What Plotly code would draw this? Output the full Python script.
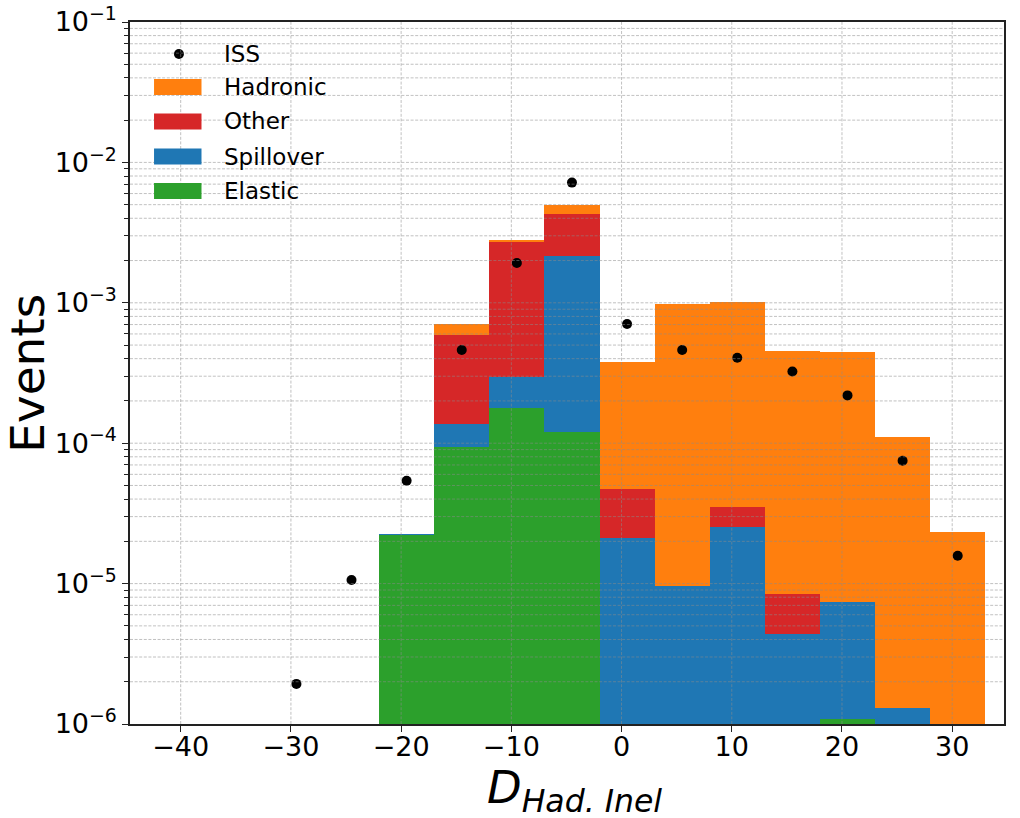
import math
import plotly.graph_objects as go

# Histogram bin centres (bin width 5) and stacked component contents
bin_centers = [-19.5, -14.5, -9.5, -4.5, 0.5, 5.5, 10.5, 15.5, 20.5, 25.5, 30.5]
bin_width = 5
elastic = [2.22e-5, 9.4e-5, 1.79e-4, 1.20e-4, 0, 0, 0, 0, 1.08e-6, 0, 0]
spillover = [3e-7, 4.3e-5, 1.19e-4, 2.05e-3, 2.1e-5, 9.6e-6, 2.55e-5, 4.37e-6, 6.3e-6, 1.31e-6, 0]
other = [0, 4.56e-4, 2.40e-3, 2.13e-3, 2.6e-5, 0, 9.6e-6, 4.1e-6, 0, 0, 0]
hadronic = [0, 1.17e-4, 9.0e-5, 7.0e-4, 3.29e-4, 9.7e-4, 9.7e-4, 4.45e-4, 4.36e-4, 1.09e-4, 2.32e-5]

# ISS data points
iss_x = [-29.5, -24.5, -19.5, -14.5, -9.5, -4.5, 0.5, 5.5, 10.5, 15.5, 20.5, 25.5, 30.5]
iss_y = [1.93e-6, 1.06e-5, 5.4e-5, 4.61e-4, 1.92e-3, 7.18e-3, 7.06e-4, 4.61e-4,
         4.06e-4, 3.24e-4, 2.19e-4, 7.5e-5, 1.58e-5]

x_ticks = [-40, -30, -20, -10, 0, 10, 20, 30]
y_exponents = [-6, -5, -4, -3, -2, -1]

COLORS = {"Hadronic": "#ff7f0e", "Other": "#d62728",
          "Spillover": "#1f77b4", "Elastic": "#2ca02c"}
FONT = "DejaVu Sans"
X_RANGE = [-44.6, 34.7]
Y_LOG_RANGE = [-6, -1]


def nz(vals):
    return [v if v > 0 else None for v in vals]


fig = go.Figure()
for name, vals in [("Elastic", elastic), ("Spillover", spillover),
                   ("Other", other), ("Hadronic", hadronic)]:
    fig.add_trace(go.Bar(x=bin_centers, y=nz(vals), width=bin_width, name=name,
                         marker=dict(color=COLORS[name], line=dict(width=0)),
                         showlegend=False))

fig.add_trace(go.Scatter(x=iss_x, y=iss_y, mode="markers", name="ISS",
                         marker=dict(color="black", size=10), showlegend=False))

# Dashed grid drawn over the bars
grid = dict(color="rgba(140,140,140,0.6)", width=0.9, dash="3px,1.6px")
shapes = []
for xv in x_ticks:
    shapes.append(dict(type="line", xref="x", yref="paper", x0=xv, x1=xv, y0=0, y1=1,
                       line=grid, layer="above"))


def yfrac(v):
    return (math.log10(v) - Y_LOG_RANGE[0]) / (Y_LOG_RANGE[1] - Y_LOG_RANGE[0])


minor_vals = []
for e in y_exponents[:-1]:
    for m in range(1, 10):
        v = m * 10.0 ** e
        if m > 1:
            minor_vals.append(v)
        if e == y_exponents[0] and m == 1:
            continue
        shapes.append(dict(type="line", xref="paper", yref="paper", x0=0, x1=1,
                           y0=yfrac(v), y1=yfrac(v), line=grid, layer="above"))

# Legend drawn as patches + labels
LEG_FONT = dict(family=FONT, size=23, color="black")
LEG_TEXT_X = 0.1053
annotations = [dict(xref="paper", yref="paper", x=LEG_TEXT_X, y=0.9544, text="ISS",
                    showarrow=False, xanchor="left", yanchor="middle", font=LEG_FONT)]
fig.add_trace(go.Scatter(x=[0.056], y=[0.9544], xaxis="x2", yaxis="y2", mode="markers",
                         marker=dict(color="black", size=10), showlegend=False,
                         hoverinfo="skip"))
legend_items = [("Hadronic", 0.9074), ("Other", 0.8583), ("Spillover", 0.8084), ("Elastic", 0.7593)]
for name, yc in legend_items:
    shapes.append(dict(type="rect", xref="paper", yref="paper", x0=0.0275, x1=0.0818,
                       y0=yc - 0.0114, y1=yc + 0.0114, fillcolor=COLORS[name],
                       line=dict(width=0), layer="above"))
    annotations.append(dict(xref="paper", yref="paper", x=LEG_TEXT_X, y=yc, text=name,
                            showarrow=False, xanchor="left", yanchor="middle", font=LEG_FONT))

# Axis titles
annotations.append(dict(xref="paper", yref="paper", x=0.509, y=-0.05,
                        text="<i>D<sub>Had. Inel</sub></i>", showarrow=False,
                        xanchor="center", yanchor="top",
                        font=dict(family=FONT, size=45, color="black")))
annotations.append(dict(xref="paper", yref="paper", x=-0.118, y=0.5, text="Events",
                        textangle=-90, showarrow=False, xanchor="center", yanchor="middle",
                        font=dict(family=FONT, size=47, color="black")))

axis_common = dict(showgrid=False, zeroline=False, showline=True, linecolor="#222",
                   linewidth=1.5, mirror=True, ticks="outside", ticklen=6, tickwidth=1.2,
                   tickcolor="#222", tickfont=dict(family=FONT, size=27), automargin=False)

fig.update_layout(
    width=1020, height=818,
    margin=dict(l=130, r=16, t=22, b=94),
    paper_bgcolor="white", plot_bgcolor="white",
    barmode="stack", bargap=0,
    shapes=shapes, annotations=annotations,
    font=dict(family=FONT, size=27, color="black"),
    xaxis=dict(range=X_RANGE, tickvals=x_ticks,
               ticktext=[f"\u2212{abs(v)}" if v < 0 else str(v) for v in x_ticks],
               ticklabelstandoff=-8, **axis_common),
    yaxis=dict(type="log", range=Y_LOG_RANGE,
               tickvals=[10.0 ** e for e in y_exponents],
               ticktext=[f"10<sup>\u2212{abs(e)}</sup>" for e in y_exponents],
               minor=dict(tickvals=minor_vals, ticks="outside", ticklen=4, tickwidth=0.9,
                          tickcolor="#222", showgrid=False),
               **axis_common),
    xaxis2=dict(domain=[0, 1], range=[0, 1], overlaying="x", visible=False, fixedrange=True),
    yaxis2=dict(domain=[0, 1], range=[0, 1], overlaying="y", visible=False, fixedrange=True),
)

fig.write_html("out.html")
